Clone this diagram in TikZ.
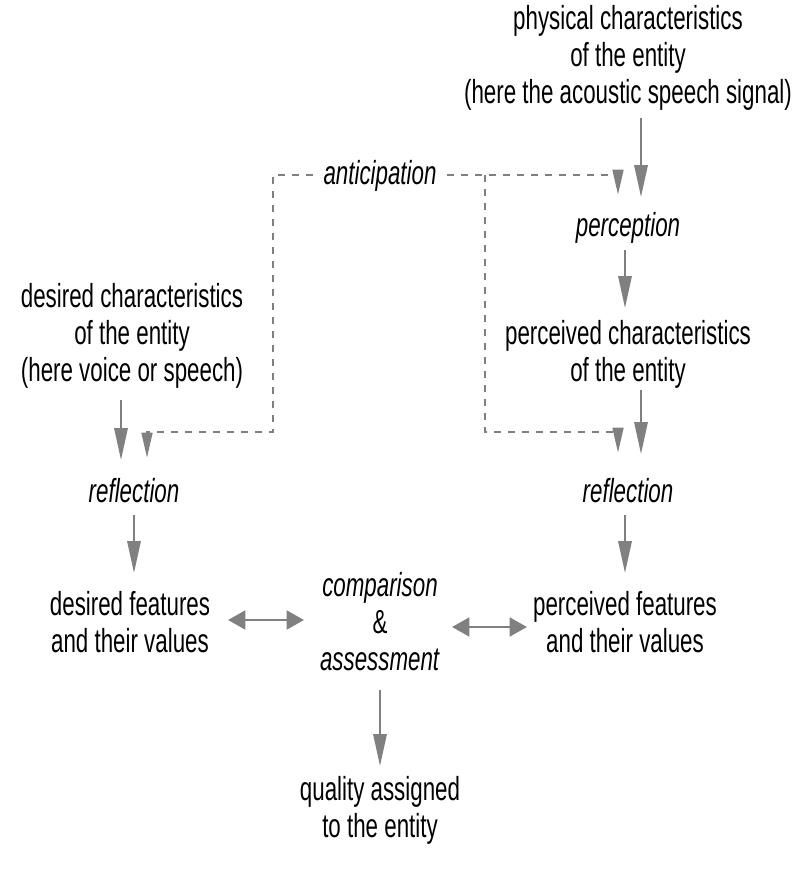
\documentclass[tikz,border=0pt]{standalone}
\usepackage{fontspec}
\setmainfont{Liberation Sans}[FakeStretch=0.67]
\usetikzlibrary{arrows.meta}
\definecolor{agray}{RGB}{128,128,128}
\tikzset{
  lbl/.style={anchor=center, align=center, inner sep=0pt, font=\fontsize{25pt}{27.75pt}\selectfont},
  it/.style={font=\fontsize{25pt}{27.75pt}\selectfont\itshape},
  flow/.style={draw=agray, line width=1.6pt, -{Triangle[length=24pt,width=10pt]}},
  dflow/.style={draw=agray, line width=2pt, dash pattern=on 5.5pt off 5pt, -{Triangle[length=19pt,width=8pt]}},
  both/.style={draw=agray, line width=2.2pt, {Triangle[length=13pt,width=14pt]}-{Triangle[length=13pt,width=14pt]}}
}
\begin{document}
\begin{tikzpicture}[x=0.75pt,y=-0.75pt]
\useasboundingbox (0,0) rectangle (809,870);
% text nodes
\node[lbl] (phys) at (628,58) {physical characteristics\\of the entity\\(here the acoustic speech signal)};
\node[lbl,it,inner xsep=7.5pt] (antic) at (380,176) {anticipation};
\node[lbl,it] (perc) at (628,228) {perception};
\node[lbl] (pchar) at (628,354) {perceived characteristics\\of the entity};
\node[lbl] (dchar) at (132,336) {desired characteristics\\of the entity\\(here voice or speech)};
\node[lbl,it] (reflL) at (134,491) {reflection};
\node[lbl,it] (reflR) at (628,491) {reflection};
\node[lbl] (dfeat) at (130,622) {desired features\\and their values};
\node[lbl] (pfeat) at (625,622) {perceived features\\and their values};
\node[lbl] (comp) at (380,622) {\textit{comparison}\\\&\\\textit{assessment}};
\node[lbl] (qual) at (380,810) {quality assigned\\to the entity};
% arrow end points
\coordinate (a1s) at (641,118); \coordinate (a1e) at (641,197);
\coordinate (a2s) at (625,250); \coordinate (a2e) at (625,308);
\coordinate (a3s) at (641,390); \coordinate (a3e) at (641,454);
\coordinate (a4s) at (121,400); \coordinate (a4e) at (121,460);
\coordinate (a5s) at (134,515); \coordinate (a5e) at (134,573);
\coordinate (a6s) at (625,515); \coordinate (a6e) at (625,573);
\coordinate (a7s) at (380,690); \coordinate (a7e) at (380,766);
\coordinate (b1s) at (228,620); \coordinate (b1e) at (304,620);
\coordinate (b2s) at (452,627); \coordinate (b2e) at (527,627);
% dashed path points
\coordinate (dL) at (273,175); \coordinate (dLb) at (273,432);
\coordinate (dLa) at (147,432); \coordinate (dLt) at (147,458);
\coordinate (J) at (485,175); \coordinate (Jb) at (485,432);
\coordinate (dR) at (618,175); \coordinate (dRt) at (618,195);
\coordinate (dR2) at (618,432); \coordinate (dR2t) at (618,453);
% solid arrows
\draw[flow] (a1s) -- (a1e);
\draw[flow] (a2s) -- (a2e);
\draw[flow] (a3s) -- (a3e);
\draw[flow] (a4s) -- (a4e);
\draw[flow] (a5s) -- (a5e);
\draw[flow] (a6s) -- (a6e);
\draw[flow] (a7s) -- (a7e);
\draw[both] (b1s) -- (b1e);
\draw[both] (b2s) -- (b2e);
% dashed anticipation paths
\draw[dflow] (antic.west |- dL) -- (dL) -- (dLb) -- (dLa) -- (dLt);
\draw[dflow] (antic.east |- dL) -- (dR) -- (dRt);
\draw[dflow] (J) -- (Jb) -- (dR2) -- (dR2t);
\end{tikzpicture}
\end{document}
